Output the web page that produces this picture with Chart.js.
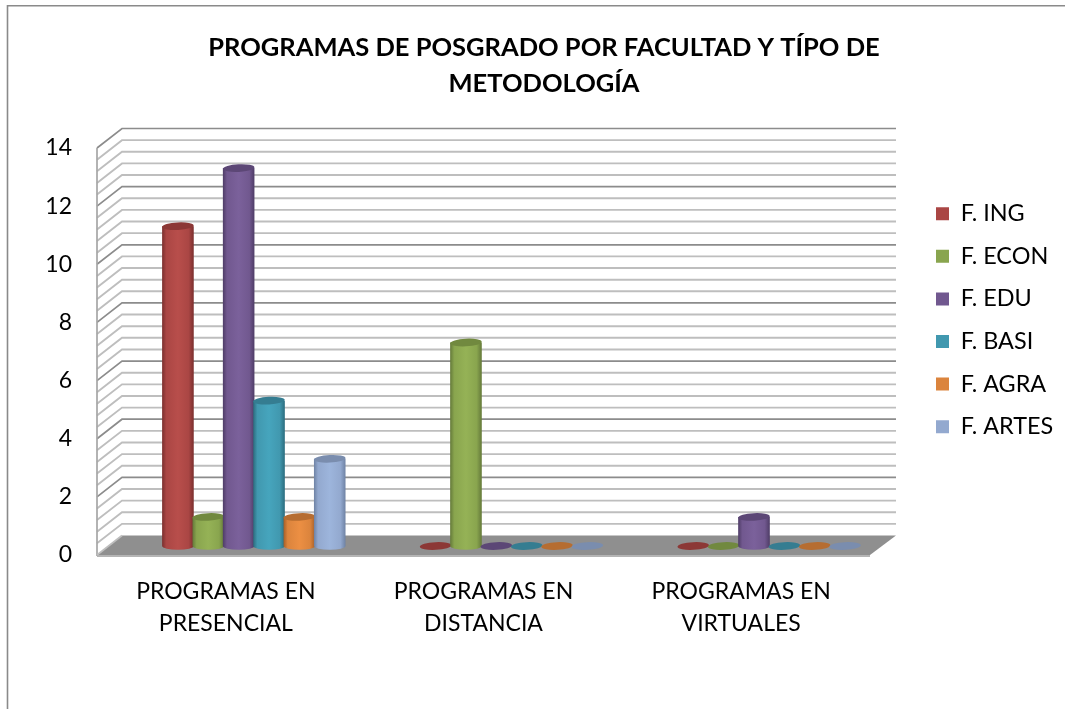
<!DOCTYPE html>
<html><head><meta charset="utf-8">
<style>html,body{margin:0;padding:0;background:#fff}canvas{display:block}</style>
<script src="https://cdn.jsdelivr.net/npm/chart.js@4/dist/chart.umd.js"></script>
</head><body>
<div style="width:1065px;height:709px"><canvas id="c" width="1065" height="709"></canvas></div>
<script>
const titleLines = ['PROGRAMAS DE POSGRADO POR FACULTAD Y TÍPO DE', 'METODOLOGÍA'];
const categories = [['PROGRAMAS EN','PRESENCIAL'],['PROGRAMAS EN','DISTANCIA'],['PROGRAMAS EN','VIRTUALES']];
const seriesNames = ['F. ING','F. ECON','F. EDU','F. BASI','F. AGRA','F. ARTES'];
const fIng   = [11,0,0];
const fEcon  = [1,7,0];
const fEdu   = [13,0,1];
const fBasi  = [5,0,0];
const fAgra  = [1,0,0];
const fArtes = [3,0,0];
const seriesValues = [fIng,fEcon,fEdu,fBasi,fAgra,fArtes];
const bodyColors = ['#AA4644','#89A54E','#71588F','#4198AF','#DB843D','#93A9CF'];
const lightColors = ['#B84E4B','#95B256','#7B619B','#46A5BD','#EC8F43','#9DB5DC'];
const edgeColors = ['#7A2F2E','#64793A','#4E3C66','#2B6C7E','#A65F27','#6E82A4'];
const capColors = ['#8C3836','#71893F','#5C4776','#357D91','#B66D31','#7A8DAE'];
const font = 'Lato, Carlito, sans-serif';
const DX = 25, DY = -19.5, BX = 28, BY = -9;

const scene = {
  id:'scene',
  beforeLayout(chart){
    const lg = chart.legend;
    if(lg && !lg._p){ lg._p = true; const f = lg.fit; lg.fit = function(){ f.call(this); this.width = 195; }; }
  },
  afterLayout(chart){
    const lg = chart.legend;
    lg.left = 936 - lg.options.labels.padding;
    lg.right = 1065;
    lg.top = 202 - lg.options.labels.padding;
    lg.bottom = 705;
  },
  beforeDraw(chart){
    const c = chart.ctx, a = chart.chartArea, y = chart.scales.y;
    c.save();
    // outer frame
    c.strokeStyle = '#8A8A8A'; c.lineWidth = 1.6;
    c.beginPath(); c.moveTo(7.5,709); c.lineTo(7.5,5.8); c.lineTo(1065,5.8); c.stroke();
    // floor
    const y0 = y.getPixelForValue(0);
    c.fillStyle = '#8F8F8F';
    c.beginPath(); c.moveTo(a.left,y0); c.lineTo(a.right,y0); c.lineTo(a.right+DX+1,y0+DY); c.lineTo(a.left+DX,y0+DY); c.closePath(); c.fill();
    c.strokeStyle = '#B4B4B4'; c.lineWidth = 2;
    c.beginPath(); c.moveTo(a.left,y0+1); c.lineTo(a.right,y0+1); c.stroke();
    // walls
    y.ticks.forEach(t=>{
      if(t.value===0) return;
      const py = y.getPixelForValue(t.value), major = Math.abs(t.value/2-Math.round(t.value/2))<1e-6;
      c.strokeStyle = major ? '#8C8C8C' : '#BEBEBE';
      c.lineWidth = major ? 1.7 : 1.9;
      c.beginPath(); c.moveTo(a.left,py); c.lineTo(a.left+DX,py+DY); c.lineTo(a.right+DX+1,py+DY); c.stroke();
    });
    c.strokeStyle = '#A6A6A6'; c.lineWidth = 1.7;
    c.beginPath(); c.moveTo(a.left,a.top); c.lineTo(a.left,y0+1); c.stroke();
    c.strokeStyle = '#BEBEBE';
    c.beginPath(); c.moveTo(a.left,y0); c.lineTo(a.left+DX,y0+DY); c.stroke();
    c.restore();
  },
  beforeDatasetsDraw(chart){ chart.ctx.save(); chart.ctx.translate(BX,BY); },
  afterDatasetsDraw(chart){
    const c = chart.ctx, RY = 3.8, TILT = -0.05;
    seriesValues.forEach((vals,i)=>{
      chart.getDatasetMeta(i).data.forEach((el,j)=>{
        const hw = el.width/2+0.6, top = el.y, bot = el.base;
        if(vals[j] > 0){
          const g = c.createLinearGradient(el.x-hw,0,el.x+hw,0);
          g.addColorStop(0,edgeColors[i]); g.addColorStop(.13,bodyColors[i]);
          g.addColorStop(.5,lightColors[i]); g.addColorStop(.84,bodyColors[i]); g.addColorStop(1,edgeColors[i]);
          c.fillStyle = g;
          c.beginPath();
          c.moveTo(el.x-hw,top); c.lineTo(el.x+hw,top); c.lineTo(el.x+hw,bot);
          c.ellipse(el.x,bot,hw,RY,0,0,Math.PI); c.closePath(); c.fill();
        }
        c.fillStyle = capColors[i];
        c.beginPath(); c.ellipse(el.x,top,hw,RY,TILT,0,Math.PI*2); c.fill();
      });
    });
    c.restore();
  }
};

new Chart(document.getElementById('c'),{
  type:'bar',
  data:{labels:categories,datasets:seriesNames.map((n,i)=>({label:n,data:seriesValues[i],backgroundColor:bodyColors[i],borderWidth:0}))},
  plugins:[scene],
  options:{
    responsive:false,animation:false,
    layout:{padding:{left:23,right:0,top:30,bottom:0}},
    datasets:{bar:{categoryPercentage:.707,barPercentage:1}},
    plugins:{
      title:{display:true,text:titleLines,color:'#000',font:{family:font,size:25.5,weight:'bold',lineHeight:1.412},padding:{top:0,bottom:46}},
      legend:{position:'right',align:'start',labels:{color:'#000',boxWidth:13,boxHeight:13,padding:19.2,font:{family:font,size:23.4}}},
      tooltip:{enabled:false}
    },
    scales:{
      x:{grid:{display:false,drawTicks:false},border:{display:false},
        afterFit(s){s.height=154;},
        ticks:{color:'#000',padding:21,maxRotation:0,minRotation:0,autoSkip:false,font:{family:font,size:23,lineHeight:1.39}}},
      y:{min:0,max:14,grid:{display:false,drawTicks:false},border:{display:false},
        afterFit(s){s.width=74;},
        ticks:{stepSize:.4,autoSkip:false,color:'#000',padding:25,font:{family:font,size:23},
          callback(v){const r=Math.round(v*10)/10;return r%2===0?String(r):'';}}}
    }
  }
});
</script>
</body></html>
